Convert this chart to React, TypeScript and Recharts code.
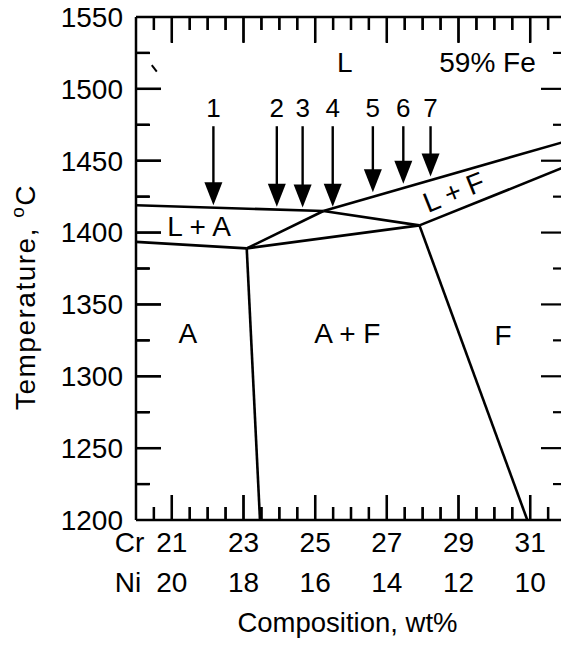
import React from 'react';
import { ComposedChart, Line, XAxis, YAxis, ReferenceLine, ReferenceDot, Label } from 'recharts';

const FONT = '"Liberation Sans", Arial, Helvetica, sans-serif';

// Axis ticks
const crMajorTicks = [21, 23, 25, 27, 29, 31];
const niTickLabels = ['20', '18', '16', '14', '12', '10'];
const crMinorTicks = [20.5, 21.5, 22, 22.5, 23.5, 24, 24.5, 25.5, 26, 26.5, 27.5, 28, 28.5, 29.5, 30, 30.5, 31.5];
const tempMajorTicks = [1200, 1250, 1300, 1350, 1400, 1450, 1500, 1550];
const tempInnerMajor = [1250, 1300, 1350, 1400, 1450, 1500];
const tempMinorTicks = [1225, 1275, 1325, 1375, 1425, 1475, 1525];
const crDomain = [20, 32];
const tempDomain = [1200, 1550];

// Phase boundaries (x = wt% Cr, t = temperature °C)
const liquidusA = [{ x: 20, t: 1419 }, { x: 25.23, t: 1415 }];
const liquidusF = [{ x: 25.23, t: 1415 }, { x: 32, t: 1463.5 }];
const threePhaseLeft = [{ x: 25.23, t: 1415 }, { x: 23.09, t: 1389 }];
const threePhaseRight = [{ x: 25.23, t: 1415 }, { x: 27.91, t: 1405 }];
const threePhaseBottom = [{ x: 23.09, t: 1389 }, { x: 27.91, t: 1405 }];
const solidusA = [{ x: 20, t: 1393.5 }, { x: 23.09, t: 1389 }];
const solidusF = [{ x: 27.91, t: 1405 }, { x: 32, t: 1446 }];
const austeniteBoundary = [{ x: 23.09, t: 1389 }, { x: 23.46, t: 1200 }];
const ferriteBoundary = [{ x: 27.91, t: 1405 }, { x: 30.92, t: 1200 }];
const scanMark = [{ x: 20.44, t: 1516.5 }, { x: 20.58, t: 1512 }];

// Arrows (composition, tip temperature)
const arrowLabels = ['1', '2', '3', '4', '5', '6', '7'];
const arrowCr = [22.16, 23.93, 24.65, 25.49, 26.61, 27.46, 28.22];
const arrowTipT = [1419, 1418, 1417.5, 1418, 1428, 1434, 1439];
const arrowTopT = 1474;

// Region labels
const regionText = ['L', '59% Fe', 'L + A', 'A', 'A + F', 'F', 'L + F'];
const regionCr = [25.83, 29.81, 21.76, 21.45, 25.9, 30.24, 28.87];
const regionT = [1518.7, 1518.7, 1404.6, 1329.9, 1329.9, 1328.7, 1428.3];
const regionAngle = [0, 0, 0, 0, 0, 0, -22];

// Chart geometry (style) and tick-mark lengths in pixels
const CHART_W = 600;
const CHART_H = 647;
const LEFT_W = 136;
const RIGHT_W = 34;
const TOP_H = 17;
const BOTTOM_H = 127;
const PX_PER_CR = (CHART_W - LEFT_W - RIGHT_W) / (crDomain[1] - crDomain[0]);
const PX_PER_C = (CHART_H - TOP_H - BOTTOM_H) / (tempDomain[1] - tempDomain[0]);
const TICK_MAJOR = 25;
const TICK_MINOR = 13;

// inward tick marks, drawn as short segments through the chart's scales
const tickSegments: { key: string; data: { x: number; t: number }[] }[] = [];
[...crMajorTicks, ...crMinorTicks].forEach((v) => {
  const len = (crMajorTicks.includes(v) ? TICK_MAJOR : TICK_MINOR) / PX_PER_C;
  tickSegments.push({ key: `xb${v}`, data: [{ x: v, t: tempDomain[0] }, { x: v, t: tempDomain[0] + len }] });
  tickSegments.push({ key: `xt${v}`, data: [{ x: v, t: tempDomain[1] }, { x: v, t: tempDomain[1] - len }] });
});
[...tempInnerMajor, ...tempMinorTicks].forEach((v) => {
  const len = (tempInnerMajor.includes(v) ? TICK_MAJOR : TICK_MINOR) / PX_PER_CR;
  tickSegments.push({ key: `yl${v}`, data: [{ x: crDomain[0], t: v }, { x: crDomain[0] + len, t: v }] });
  tickSegments.push({ key: `yr${v}`, data: [{ x: crDomain[1], t: v }, { x: crDomain[1] - len, t: v }] });
});

const BottomTick = (props: any) => {
  const { x, y, payload } = props;
  const v = payload.value;
  const idx = crMajorTicks.indexOf(v);
  if (idx < 0) return <g />;
  const ts = { fontFamily: FONT, fontSize: 28, fill: '#000' } as const;
  return (
    <g>
      <text x={x} y={y + 22} dy="0.35em" textAnchor="middle" {...ts}>{String(v)}</text>
      <text x={x} y={y + 62} dy="0.35em" textAnchor="middle" {...ts}>{niTickLabels[idx]}</text>
      {idx === 0 && (
        <>
          <text x={x - 57} y={y + 22} dy="0.35em" textAnchor="start" {...ts}>Cr</text>
          <text x={x - 57} y={y + 62} dy="0.35em" textAnchor="start" {...ts}>Ni</text>
        </>
      )}
    </g>
  );
};

const LeftTick = (props: any) => {
  const { x, y, payload } = props;
  return (
    <text x={x - 13} y={y} dy="0.35em" textAnchor="end" fontFamily={FONT} fontSize={28} fill="#000">
      {String(payload.value)}
    </text>
  );
};

// tick mark drawn from an edge anchor point (same technique as the working test)
const makeMark = (dx: number, dy: number) => (p: any) => {
  const { cx, cy } = p;
  return (
    <g>
      <path d={`M${cx},${cy}L${cx + dx},${cy + dy}`} stroke="#000" strokeWidth={2.4} fill="none" />
    </g>
  );
};

const makeArrow = (label: string) => (p: any) => {
  const { x1, y1, x2, y2 } = p;
  const headH = 23;
  const headW = 9;
  return (
    <g>
      <line x1={x1} y1={y1} x2={x2} y2={y2 - headH + 2} stroke="#000" strokeWidth={2.4} />
      <polygon points={`${x2 - headW},${y2 - headH} ${x2 + headW},${y2 - headH} ${x2},${y2}`} fill="#000" />
      <text x={x1} y={y1 - 18.5} dy="0.35em" textAnchor="middle" fontFamily={FONT} fontSize={26} fill="#000">
        {label}
      </text>
    </g>
  );
};

const makeText = (text: string, angle: number) => (p: any) => {
  const { cx, cy } = p;
  return (
    <text
      x={cx}
      y={cy}
      dy="0.35em"
      textAnchor="middle"
      fontFamily={FONT}
      fontSize={28}
      fill="#000"
      transform={angle ? `rotate(${angle}, ${cx}, ${cy})` : undefined}
    >
      {text}
    </text>
  );
};

const boundaries = [
  liquidusA,
  liquidusF,
  threePhaseLeft,
  threePhaseRight,
  threePhaseBottom,
  solidusA,
  solidusF,
  austeniteBoundary,
  ferriteBoundary,
];

export default function App() {
  const markDots: React.ReactNode[] = [];
  [...crMajorTicks, ...crMinorTicks].forEach((v) => {
    const major = crMajorTicks.includes(v);
    markDots.push(
      <ReferenceDot key={`db${v}`} xAxisId="b" yAxisId="l" x={v} y={tempDomain[0]} r={0} ifOverflow="visible"
        shape={makeMark(0, -(major ? TICK_MAJOR : TICK_MINOR))} />
    );
    markDots.push(
      <ReferenceDot key={`dt${v}`} xAxisId="b" yAxisId="l" x={v} y={tempDomain[1]} r={0} ifOverflow="visible"
        shape={makeMark(0, major ? TICK_MAJOR + 1 : TICK_MINOR)} />
    );
  });
  [...tempInnerMajor, ...tempMinorTicks].forEach((v) => {
    const major = tempInnerMajor.includes(v);
    markDots.push(
      <ReferenceDot key={`dl${v}`} xAxisId="b" yAxisId="l" x={crDomain[0]} y={v} r={0} ifOverflow="visible"
        shape={makeMark(major ? TICK_MAJOR : TICK_MINOR + 1, 0)} />
    );
  });

  return (
    <div style={{ position: 'fixed', left: 0, top: 0, width: 561, height: 647, overflow: 'hidden', background: '#fff' }}>
      <ComposedChart width={CHART_W} height={CHART_H} margin={{ top: 0, right: 0, bottom: 0, left: 0 }}>
        <XAxis
          xAxisId="b"
          type="number"
          dataKey="x"
          orientation="bottom"
          domain={crDomain}
          ticks={crMajorTicks}
          interval={0}
          height={BOTTOM_H}
          tickSize={0}
          tickMargin={0}
          tickLine={false}
          tick={<BottomTick />}
          axisLine={{ stroke: '#000', strokeWidth: 2.5 }}
          allowDataOverflow
        >
          <Label
            content={(p: any) => {
              const vb = p.viewBox;
              return (
                <text x={vb.x + vb.width / 2 - 3.5} y={vb.y + 102.7} dy="0.35em" textAnchor="middle" fontFamily={FONT} fontSize={27.5} fill="#000">
                  Composition, wt%
                </text>
              );
            }}
          />
        </XAxis>
        <XAxis
          xAxisId="t"
          type="number"
          dataKey="x"
          orientation="top"
          domain={crDomain}
          height={TOP_H}
          tick={false}
          tickLine={false}
          axisLine={{ stroke: '#000', strokeWidth: 2.5 }}
          allowDataOverflow
        />
        <YAxis
          yAxisId="l"
          type="number"
          orientation="left"
          domain={tempDomain}
          ticks={tempMajorTicks}
          interval={0}
          width={LEFT_W}
          tickSize={0}
          tickMargin={0}
          tickLine={false}
          tick={<LeftTick />}
          axisLine={{ stroke: '#000', strokeWidth: 2.5 }}
          allowDataOverflow
        >
          <Label
            content={(p: any) => {
              const vb = p.viewBox;
              const cx = vb.x + 25;
              const cy = vb.y + 280;
              return (
                <text
                  x={cx}
                  y={cy}
                  dy="0.35em"
                  textAnchor="middle"
                  fontFamily={FONT}
                  fontSize={28}
                  fill="#000"
                  letterSpacing={1.5}
                  transform={`rotate(-90, ${cx}, ${cy})`}
                >
                  Temperature,{' '}
                  <tspan fontSize={19} dy={-11}>o</tspan>
                  <tspan dy={11}>C</tspan>
                </text>
              );
            }}
          />
        </YAxis>
        <YAxis
          yAxisId="r"
          type="number"
          orientation="right"
          domain={tempDomain}
          width={RIGHT_W}
          tick={false}
          tickLine={false}
          axisLine={{ stroke: '#000', strokeWidth: 2.5 }}
          allowDataOverflow
        />

        {markDots}

        {tickSegments.map((s) => (
          <Line
            key={s.key}
            data={s.data}
            dataKey="t"
            xAxisId="b"
            yAxisId="l"
            type="linear"
            stroke="#000"
            strokeWidth={2.2}
            dot={false}
            activeDot={false}
            isAnimationActive={false}
          />
        ))}

        {boundaries.map((d, i) => (
          <Line
            key={`b${i}`}
            data={d}
            dataKey="t"
            xAxisId="b"
            yAxisId="l"
            type="linear"
            stroke="#000"
            strokeWidth={2.6}
            dot={false}
            activeDot={false}
            isAnimationActive={false}
          />
        ))}
        <Line
          data={scanMark}
          dataKey="t"
          xAxisId="b"
          yAxisId="l"
          type="linear"
          stroke="#000"
          strokeWidth={2}
          dot={false}
          activeDot={false}
          isAnimationActive={false}
        />

        {arrowCr.map((c, i) => (
          <ReferenceLine
            key={`a${i}`}
            xAxisId="b"
            yAxisId="l"
            segment={[{ x: c, y: arrowTopT }, { x: c, y: arrowTipT[i] }]}
            shape={makeArrow(arrowLabels[i])}
            ifOverflow="visible"
          />
        ))}

        {regionText.map((t, i) => (
          <ReferenceDot
            key={`r${i}`}
            xAxisId="b"
            yAxisId="l"
            x={regionCr[i]}
            y={regionT[i]}
            r={0}
            shape={makeText(t, regionAngle[i])}
            ifOverflow="visible"
          />
        ))}
      </ComposedChart>
    </div>
  );
}
